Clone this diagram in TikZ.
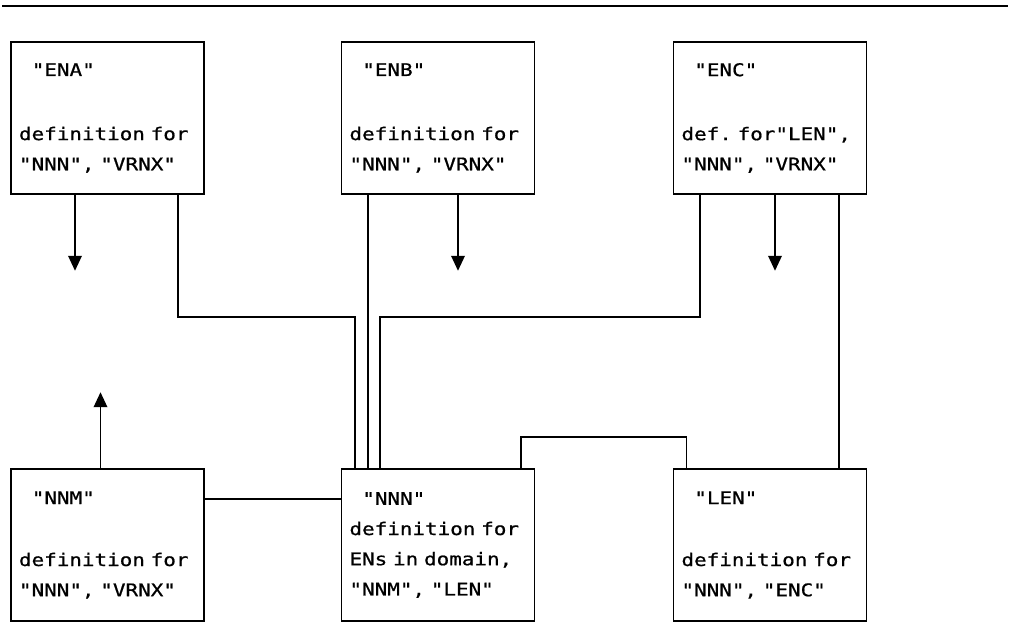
\documentclass[tikz,border=0pt]{standalone}
\usepackage{fontspec}
\newfontfamily\boxfont[FakeStretch=1.2, FakeBold=0.8]{DejaVu Sans Mono}
\newcommand\boxtext{\boxfont\fontsize{12.4}{21.5}\selectfont\frenchspacing}
\newcommand\lead{\hspace*{0.32cm}}
\usetikzlibrary{positioning,arrows.meta}

\begin{document}
\begin{tikzpicture}[
    block/.style={draw, line width=1.1pt, minimum width=4.825cm, minimum height=3.8cm, text width=4.425cm, inner xsep=0.2cm, align=left, font=\boxtext},
    link/.style={line width=1.1pt},
    arrow/.style={-{Triangle[length=3.75mm, width=3.4mm]}, line width=1.1pt},
    on grid,
]
\useasboundingbox (0,0) rectangle (25.25,15.575);
\draw[link] (0.05,15.425) -- (25.2,15.425);

\node[block] (ena) at (2.6875,12.625) {\lead"ENA"\\[1.12\baselineskip] definition for\\ "NNN", "VRNX"};
\node[block, right=8.2625cm of ena] (enb) {\lead"ENB"\\[1.12\baselineskip] definition for\\ "NNN", "VRNX"};
\node[block, right=8.3cm of enb] (enc) {\lead"ENC"\\[1.12\baselineskip] def. for"LEN",\\ "NNN", "VRNX"};

\node[block, below=10.675cm of ena] (nnm) {\lead"NNM"\\[1.05\baselineskip] definition for\\ "NNN", "VRNX"};
\node[block, below=10.675cm of enb] (nnn) {\lead"NNN"\\ definition for\\ ENs in domain,\\ "NNM", "LEN"};
\node[block, below=10.675cm of enc] (len) {\lead"LEN"\\[1.05\baselineskip] definition for\\ "NNN", "ENC"};

\draw[arrow] ([xshift=-0.8125cm]ena.south) -- ++(0,-1.9);
\draw[arrow] ([xshift=0.5cm]enb.south) -- ++(0,-1.9);
\draw[arrow] ([xshift=0.125cm]enc.south) -- ++(0,-1.9);
\draw[arrow] ([xshift=-0.175cm]nnm.north) -- ++(0,1.9);

\draw[link] ([xshift=1.7625cm]ena.south) -- ++(0,-3.05) -| ([xshift=-2.075cm]nnn.north);
\draw[link] ([xshift=-1.75cm]enb.south) -- ([xshift=-1.75cm]nnn.north);
\draw[link] ([xshift=-1.75cm]enc.south) -- ++(0,-3.05) -| ([xshift=-1.45cm]nnn.north);
\draw[link] ([xshift=1.73cm]enc.south) -- ([xshift=1.73cm]len.north);
\draw[link] ([yshift=1.15cm]nnm.east) -- ([yshift=1.15cm]nnn.west);
\draw[link] ([xshift=2.075cm]nnn.north) -- ++(0,0.775) -| ([xshift=-2.09cm]len.north);
\end{tikzpicture}
\end{document}
